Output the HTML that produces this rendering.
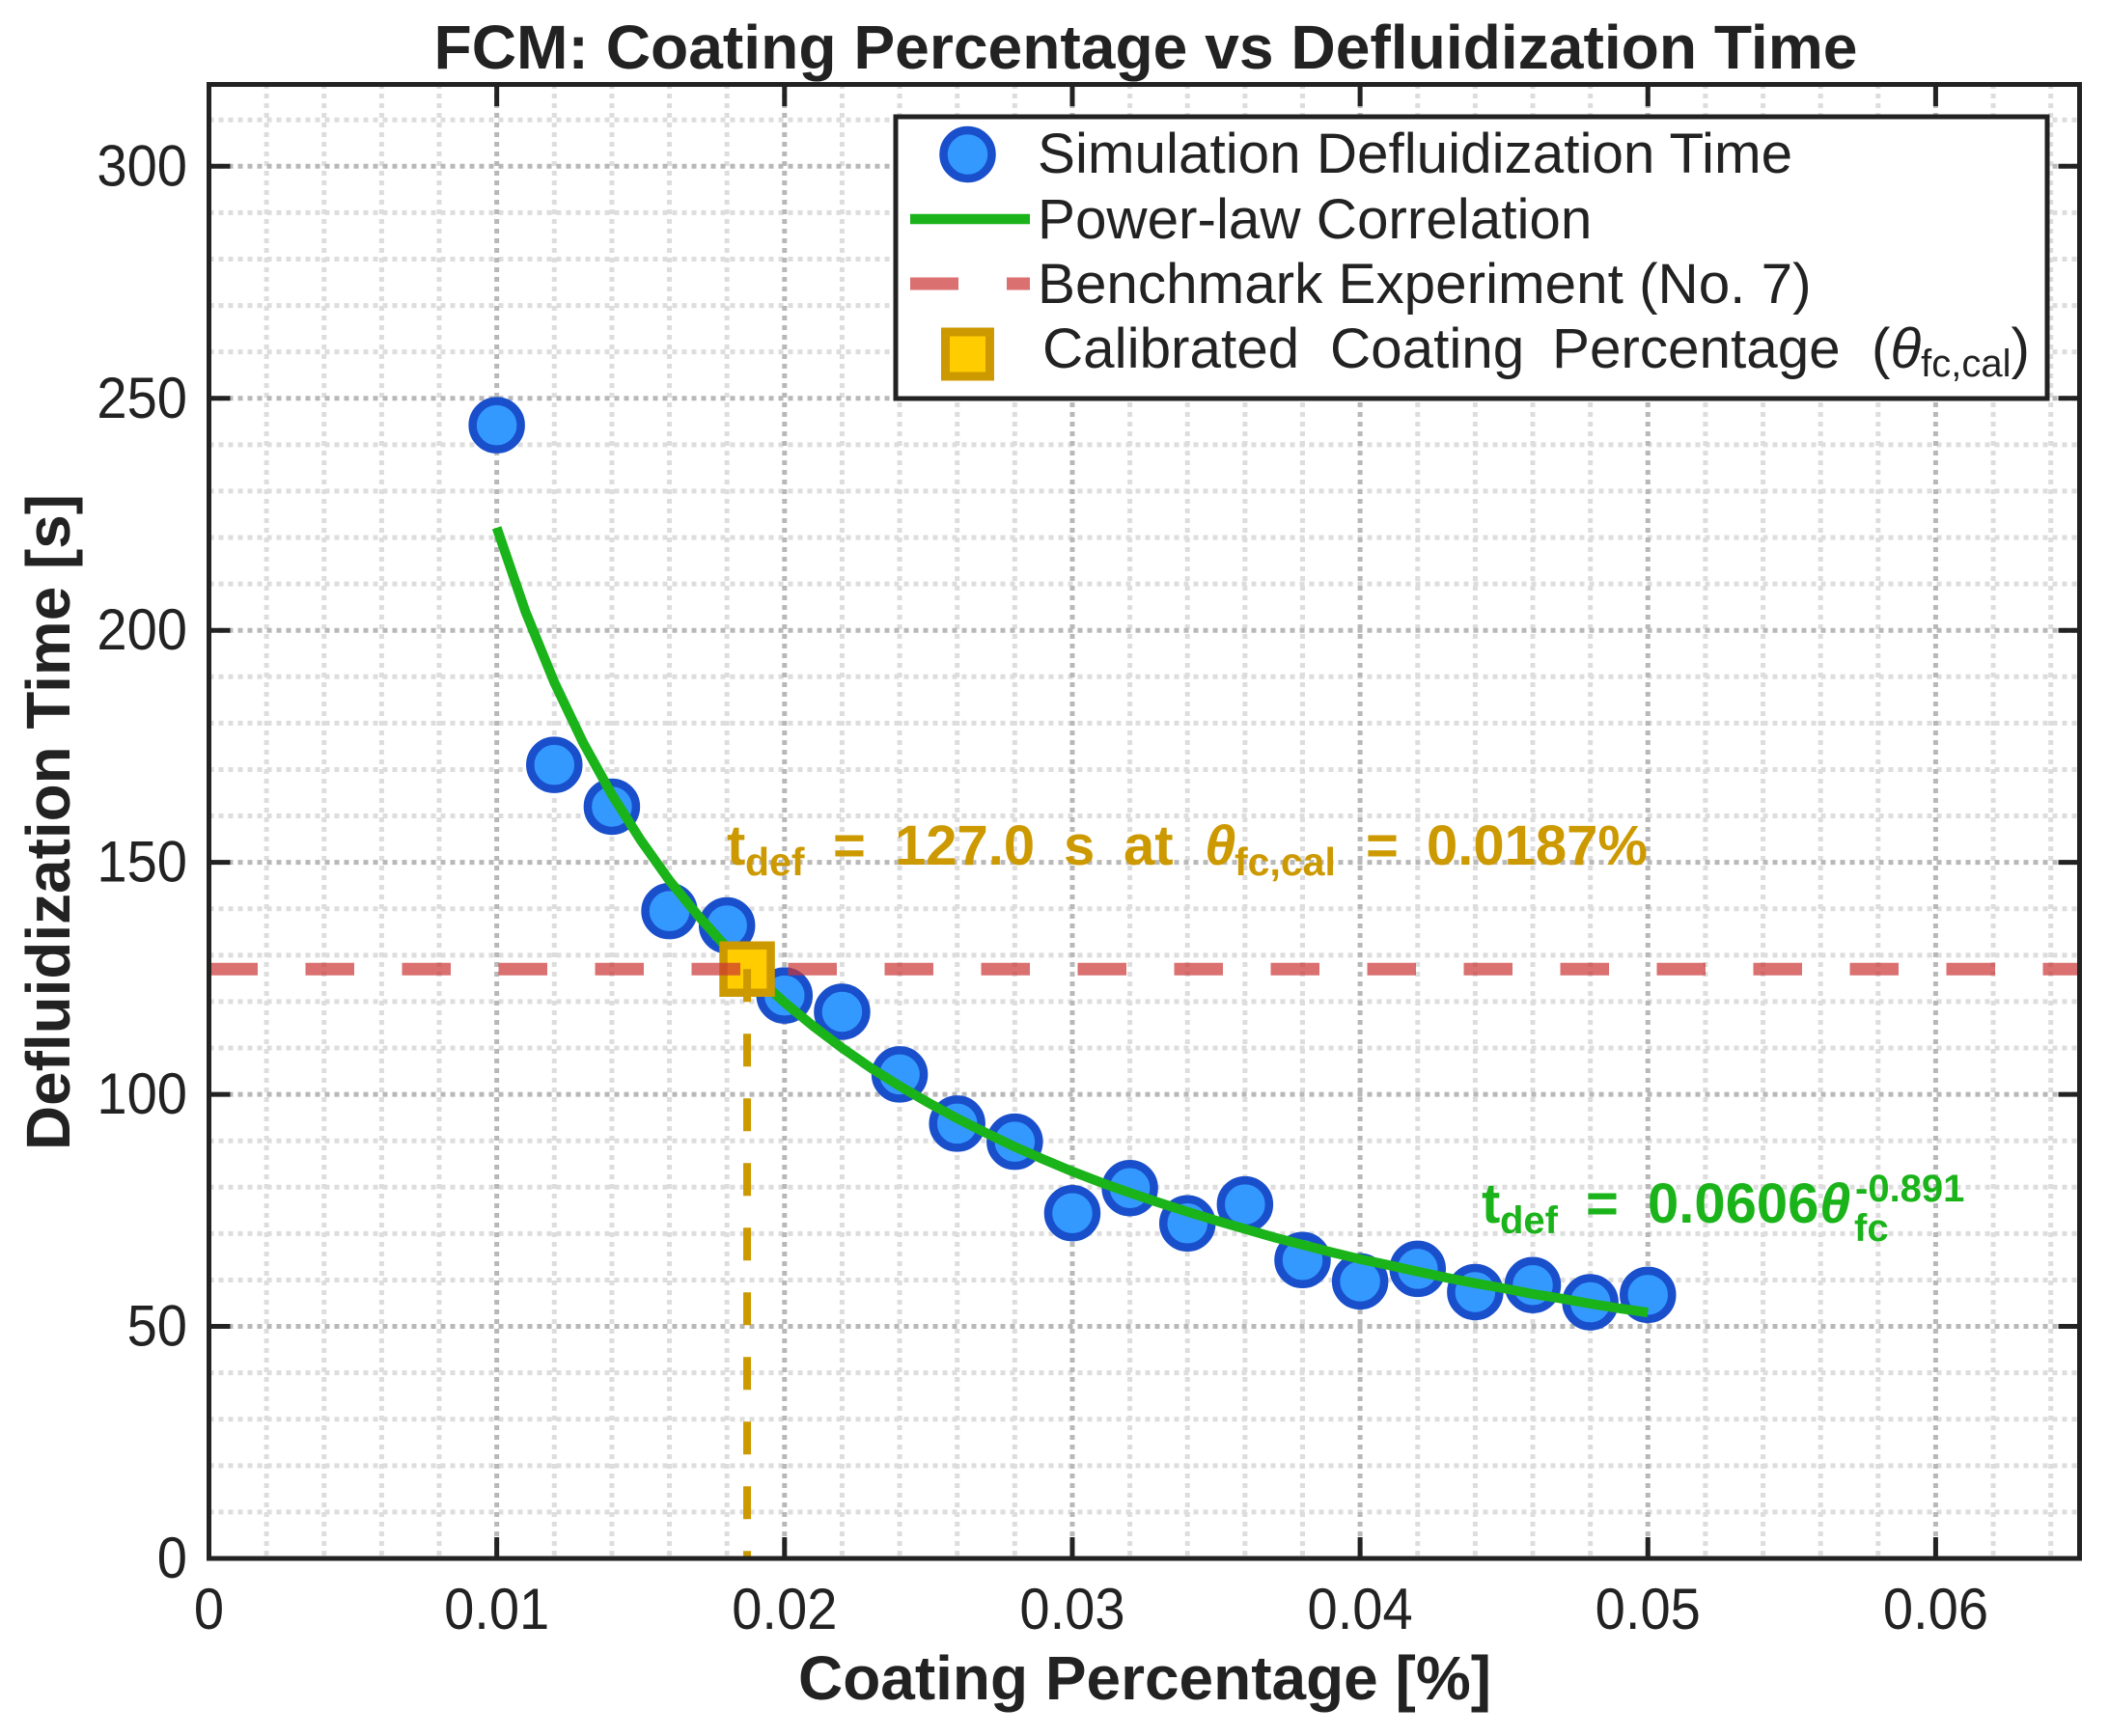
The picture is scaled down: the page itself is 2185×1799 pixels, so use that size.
<!DOCTYPE html>
<html lang="en">
<head>
<meta charset="utf-8">
<title>FCM: Coating Percentage vs Defluidization Time</title>
<style>
html,body{margin:0;padding:0;background:#fff;width:2185px;height:1799px;overflow:hidden}
svg{display:block}
text{font-family:"Liberation Sans",Arial,sans-serif;fill:#222}
.b{font-weight:700}
.i{font-style:italic}
.gold{fill:#cc9900;font-weight:700;font-size:58px}
.goldsub{fill:#cc9900;font-weight:700;font-size:41px}
.green{fill:#1ab31a;font-weight:700;font-size:58px}
.greensub{fill:#1ab31a;font-weight:700;font-size:40px}
</style>
</head>
<body>
<svg id="chart" xmlns="http://www.w3.org/2000/svg" width="2185" height="1799" viewBox="0 0 2185 1799">
  <rect x="0" y="0" width="2185" height="1799" fill="#fff"/>
  <g id="minor-grid" fill="none" stroke="#dddddd" stroke-width="5" stroke-dasharray="5 5"></g>
  <g id="major-grid" fill="none" stroke="#b8b8b8" stroke-width="5" stroke-dasharray="5 5"></g>
  <g id="points"></g>
  <path id="fit" fill="none" stroke="#1ab31a" stroke-width="10"/>
  <rect id="cal-square" fill="#ffcc00" stroke="#cc9900" stroke-width="8.5" width="49" height="49"/>
  <line id="cal-line" stroke="#cc9900" stroke-width="8" stroke-dasharray="34 33"/>
  <line id="bench-line" stroke="#cc3333" stroke-opacity="0.7" stroke-width="13" stroke-dasharray="50.5 49.5"/>
  <g id="ticks" stroke="#222" stroke-width="5"></g>
  <rect x="216.5" y="87.5" width="1938" height="1527.5" fill="none" stroke="#222" stroke-width="5"/>
  <g id="x-labels" font-size="60" text-anchor="middle"></g>
  <g id="y-labels" font-size="60" text-anchor="end"></g>

  <text class="b" x="1187" y="71" font-size="64" text-anchor="middle" textLength="1475" lengthAdjust="spacingAndGlyphs">FCM: Coating Percentage vs Defluidization Time</text>
  <text class="b" x="1186" y="1761" font-size="64" text-anchor="middle" textLength="718" lengthAdjust="spacingAndGlyphs">Coating Percentage [%]</text>
  <text class="b" transform="translate(72,852) rotate(-90)" font-size="64" text-anchor="middle" textLength="680" lengthAdjust="spacingAndGlyphs">Defluidization Time [s]</text>

  <g>
    <text class="gold" x="753" y="896">t</text>
    <text class="goldsub" x="772" y="907">def</text>
    <text class="gold" x="863" y="896">=</text>
    <text class="gold" x="927" y="896">127.0</text>
    <text class="gold" x="1102" y="896">s</text>
    <text class="gold" x="1164" y="896">at</text>
    <text class="gold i" x="1248" y="896">θ</text>
    <text class="goldsub" x="1279" y="907">fc,cal</text>
    <text class="gold" x="1415" y="896">=</text>
    <text class="gold" x="1478" y="896">0.0187%</text>
  </g>
  <g>
    <text class="green" x="1535" y="1267">t</text>
    <text class="greensub" x="1554" y="1278">def</text>
    <text class="green" x="1643" y="1267">=</text>
    <text class="green" x="1707" y="1267">0.0606</text>
    <text class="green i" x="1885" y="1267">θ</text>
    <text class="greensub" x="1922" y="1245">-0.891</text>
    <text class="greensub" x="1921" y="1286">fc</text>
  </g>

  <g>
    <rect x="928" y="121" width="1193" height="292" fill="#fff" stroke="#222" stroke-width="5"/>
    <circle cx="1002.5" cy="160" r="25" fill="#3399ff" stroke="#1a4fcc" stroke-width="8.5"/>
    <text x="1075" y="179" font-size="58.4">Simulation Defluidization Time</text>
    <line x1="943" y1="227" x2="1067" y2="227" stroke="#1ab31a" stroke-width="10.5"/>
    <text x="1075" y="247" font-size="58.4">Power-law Correlation</text>
    <line x1="943" y1="294" x2="1067" y2="294" stroke="#cc3333" stroke-opacity="0.7" stroke-width="13" stroke-dasharray="50 50"/>
    <text x="1075" y="314" font-size="58.4">Benchmark Experiment (No. 7)</text>
    <rect x="979.5" y="344" width="46" height="46" fill="#ffcc00" stroke="#cc9900" stroke-width="9"/>
    <text x="1080" y="381" font-size="58.4">Calibrated<tspan x="1378">Coating</tspan><tspan x="1608">Percentage</tspan><tspan x="1939">(</tspan><tspan class="i">θ</tspan><tspan font-size="40" dy="9">fc,cal</tspan><tspan dy="-9">)</tspan></text>
  </g>
</svg>
<script>
var xTickValues = [0, 0.01, 0.02, 0.03, 0.04, 0.05, 0.06];
var xTickLabels = ['0', '0.01', '0.02', '0.03', '0.04', '0.05', '0.06'];
var yTickValues = [0, 50, 100, 150, 200, 250, 300];
var yTickLabels = ['0', '50', '100', '150', '200', '250', '300'];
var xMinorValues = [0.002, 0.004, 0.006, 0.008, 0.012, 0.014, 0.016, 0.018, 0.022, 0.024, 0.026, 0.028, 0.032, 0.034, 0.036, 0.038, 0.042, 0.044, 0.046, 0.048, 0.052, 0.054, 0.056, 0.058, 0.062, 0.064];
var yMinorValues = [10, 20, 30, 40, 60, 70, 80, 90, 110, 120, 130, 140, 160, 170, 180, 190, 210, 220, 230, 240, 260, 270, 280, 290, 310];
var coatingPercent = [0.010, 0.012, 0.014, 0.016, 0.018, 0.020, 0.022, 0.024, 0.026, 0.028, 0.030, 0.032, 0.034, 0.036, 0.038, 0.040, 0.042, 0.044, 0.046, 0.048, 0.050];
var defluidTime = [244.2, 171, 162, 139.5, 136.4, 121.3, 117.8, 104.3, 93.7, 89.8, 74.4, 79.8, 72.2, 76.3, 64.3, 59.7, 62.4, 57.4, 58.9, 55.2, 56.8];
var curveCoating = [0.010, 0.011, 0.012, 0.013, 0.014, 0.015, 0.016, 0.017, 0.018, 0.019, 0.020, 0.021, 0.022, 0.023, 0.024, 0.025, 0.026, 0.027, 0.028, 0.029, 0.030, 0.031, 0.032, 0.033, 0.034, 0.035, 0.036, 0.037, 0.038, 0.039, 0.040, 0.041, 0.042, 0.043, 0.044, 0.045, 0.046, 0.047, 0.048, 0.049, 0.050];
var curveTime = [222.1, 204, 188.8, 175.8, 164.6, 154.8, 146.1, 138.5, 131.6, 125.4, 119.8, 114.7, 110, 105.7, 101.8, 98.2, 94.8, 91.7, 88.7, 86, 83.4, 81, 78.8, 76.7, 74.7, 72.8, 71, 69.2, 67.6, 66, 64.5, 63.2, 61.8, 60.5, 59.3, 58.2, 57, 56, 54.9, 53.9, 53];
var benchmarkTime = 127.0;
var calibratedCoating = 0.0187;
var NS = 'http://www.w3.org/2000/svg';
var L = 216.5, R = 2154.5, T = 87, B = 1615;
function sx(v) { return L + v / 0.065 * (R - L); }
function sy(v) { return B - v * 4.809; }
function mk(tag, parent) { var e = document.createElementNS(NS, tag); parent.appendChild(e); return e; }
function setLine(e, x1, y1, x2, y2) {
  e.setAttribute('x1', x1); e.setAttribute('y1', y1); e.setAttribute('x2', x2); e.setAttribute('y2', y2);
}
var minor = document.getElementById('minor-grid');
var major = document.getElementById('major-grid');
var ticks = document.getElementById('ticks');
var xl = document.getElementById('x-labels');
var yl = document.getElementById('y-labels');
xMinorValues.forEach(function (v) {
  var e = mk('line', minor);
  
  
  setLine(e, sx(v), T, sx(v), B);
});
yMinorValues.forEach(function (v) {
  var e = mk('line', minor);
  
  
  setLine(e, L, sy(v), R, sy(v));
});
xTickValues.forEach(function (v, i) {
  if (v > 0) {
    var g = mk('line', major);
    
    
    setLine(g, sx(v), T, sx(v), B);
    var t1 = mk('line', ticks);
    
    
    setLine(t1, sx(v), B, sx(v), B - 22);
    var t2 = mk('line', ticks);
    
    
    setLine(t2, sx(v), T, sx(v), T + 23);
  }
  var lab = mk('text', xl);
  
  
  lab.setAttribute('transform', 'translate(' + sx(v) + ',1688) scale(0.935,1)');
  lab.textContent = xTickLabels[i];
});
yTickValues.forEach(function (v, i) {
  if (v > 0) {
    var g = mk('line', major);
    
    
    setLine(g, L, sy(v), R, sy(v));
    var t1 = mk('line', ticks);
    
    
    setLine(t1, L, sy(v), L + 22, sy(v));
    var t2 = mk('line', ticks);
    
    
    setLine(t2, R, sy(v), R - 22, sy(v));
  }
  var lab = mk('text', yl);
  
  
  lab.setAttribute('transform', 'translate(194,' + (sy(v) + 20) + ') scale(0.935,1)');
  lab.textContent = yTickLabels[i];
});
var pts = document.getElementById('points');
coatingPercent.forEach(function (v, i) {
  var c = mk('circle', pts);
  
  
  c.setAttribute('cx', sx(v));
  c.setAttribute('cy', sy(defluidTime[i]));
  c.setAttribute('r', 25);
  c.setAttribute('fill', '#3399ff');
  c.setAttribute('stroke', '#1a4fcc');
  c.setAttribute('stroke-width', 8.5);
});
var d = curveCoating.map(function (v, i) {
  return (i ? 'L' : 'M') + sx(v).toFixed(2) + ' ' + sy(curveTime[i]).toFixed(2);
}).join(' ');
document.getElementById('fit').setAttribute('d', d);
var sq = document.getElementById('cal-square');
sq.setAttribute('x', sx(calibratedCoating) - 24.5);
sq.setAttribute('y', sy(benchmarkTime) - 24.5);
setLine(document.getElementById('cal-line'), sx(calibratedCoating), sy(benchmarkTime), sx(calibratedCoating), B);
setLine(document.getElementById('bench-line'), L, sy(benchmarkTime), R, sy(benchmarkTime));
</script>
</body>
</html>
